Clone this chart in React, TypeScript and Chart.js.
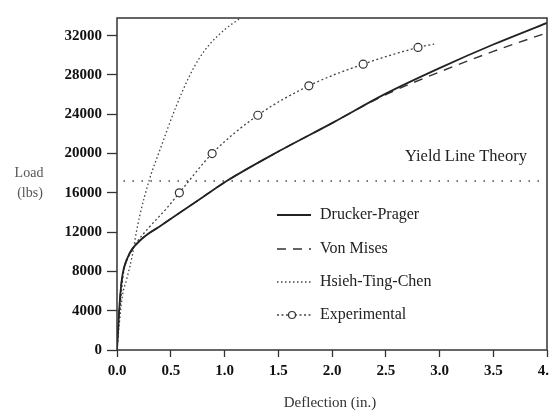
import React, { useEffect, useRef } from "react";
import { Chart, registerables } from "chart.js";

Chart.register(...registerables);

// ---- data (deflection in inches, load in lbs) ----
const xTickValues = [0, 0.5, 1.0, 1.5, 2.0, 2.5, 3.0, 3.5, 4.0];
const yTickValues = [0, 4000, 8000, 12000, 16000, 20000, 24000, 28000, 32000];

const druckerX = [0, 0.01, 0.023, 0.045, 0.066, 0.12, 0.24, 0.4, 0.58, 0.79, 1.02, 1.5, 2.0, 2.5, 3.0, 3.5, 4.0];
const druckerY = [0, 2000, 4500, 7200, 8400, 9900, 11400, 12600, 13950, 15500, 17200, 20200, 23100, 26100, 28700, 31100, 33300];

const vonMisesX = [0, 0.01, 0.023, 0.045, 0.066, 0.12, 0.24, 0.4, 0.58, 0.79, 1.02, 1.5, 2.0, 2.2, 2.5, 3.0, 3.5, 4.0];
const vonMisesY = [0, 2000, 4500, 7200, 8400, 9900, 11400, 12600, 13950, 15500, 17200, 20200, 23100, 24300, 26000, 28300, 30400, 32300];

const hsiehX = [0, 0.02, 0.05, 0.09, 0.14, 0.18, 0.21, 0.3, 0.4, 0.55, 0.67, 0.76, 0.86, 1.01, 1.15];
const hsiehY = [0, 2500, 5500, 7200, 9500, 12000, 13600, 17300, 20400, 24800, 27800, 29600, 31100, 32700, 33800];

const experimentalX = [0, 0.03, 0.06, 0.1, 0.18, 0.3, 0.46, 0.58, 0.885, 1.31, 1.785, 2.29, 2.8, 2.95];
const experimentalY = [0, 4500, 7800, 9300, 10900, 12500, 14400, 16000, 20000, 23900, 26900, 29100, 30800, 31150];
const experimentalMarked = [false, false, false, false, false, false, false, true, true, true, true, true, true, false];

const yieldLineX = [0.06, 3.95];
const yieldLineY = [17200, 17200];

const legendLabels = ["Drucker-Prager", "Von Mises", "Hsieh-Ting-Chen", "Experimental"];
const yieldLabel = "Yield Line Theory";
const yTitleLines = ["Load", "(lbs)"];
const xTitle = "Deflection (in.)";

const SERIF = "'Liberation Serif', 'Times New Roman', 'DejaVu Serif', serif";
const INK = "#222";

const pts = (xs: number[], ys: number[]) => xs.map((x, i) => ({ x, y: ys[i] }));

const decorPlugin = {
  id: "decor",
  afterDatasetsDraw(chart: any) {
    const { ctx, chartArea } = chart;
    const { left, top, right, bottom } = chartArea;
    ctx.save();
    // frame
    ctx.strokeStyle = "#333";
    ctx.lineWidth = 1.5;
    ctx.setLineDash([]);
    ctx.strokeRect(left, top, right - left, bottom - top);

    // legend inside plot
    const lx0 = left + 160;
    const lx1 = left + 194;
    const tx = left + 203;
    const rows = [top + 197, top + 231, top + 264, top + 297];
    ctx.font = `16px ${SERIF}`;
    ctx.fillStyle = INK;
    ctx.textBaseline = "middle";
    ctx.textAlign = "left";
    const styles: any[] = [
      { dash: [], w: 1.8, c: "#222" },
      { dash: [9, 7], w: 1.4, c: "#333" },
      { dash: [1.5, 2.5], w: 1.3, c: "#444" },
      { dash: [2, 2.5], w: 1.3, c: "#444" },
    ];
    rows.forEach((y, i) => {
      const s = styles[i];
      ctx.beginPath();
      ctx.setLineDash(s.dash);
      ctx.lineWidth = s.w;
      ctx.strokeStyle = s.c;
      ctx.moveTo(lx0, y);
      ctx.lineTo(lx1, y);
      ctx.stroke();
      if (i === 3) {
        ctx.setLineDash([]);
        ctx.beginPath();
        ctx.fillStyle = "#fff";
        ctx.arc(lx0 + 15, y, 3.5, 0, Math.PI * 2);
        ctx.fill();
        ctx.lineWidth = 1.2;
        ctx.strokeStyle = "#333";
        ctx.stroke();
        ctx.fillStyle = INK;
      }
      ctx.setLineDash([]);
      ctx.fillText(legendLabels[i], tx, y);
    });

    // yield line label
    ctx.font = `16.5px ${SERIF}`;
    ctx.fillText(yieldLabel, left + 288, top + 139);

    // axis titles
    ctx.font = `14px ${SERIF}`;
    ctx.fillStyle = "#555";
    ctx.textAlign = "center";
    ctx.fillText(yTitleLines[0], 29, 173);
    ctx.fillText(yTitleLines[1], 30, 193);
    ctx.font = `15px ${SERIF}`;
    ctx.fillStyle = "#333";
    ctx.fillText(xTitle, 330, 403);
    ctx.restore();
  },
};

export default function App() {
  const ref = useRef<HTMLCanvasElement | null>(null);

  useEffect(() => {
    if (!ref.current) return;
    const chart = new Chart(ref.current, {
      type: "line",
      data: {
        datasets: [
          {
            label: legendLabels[0],
            data: pts(druckerX, druckerY),
            borderColor: "#222",
            borderWidth: 1.8,
            pointRadius: 0,
            cubicInterpolationMode: "monotone",
          },
          {
            label: legendLabels[1],
            data: pts(vonMisesX, vonMisesY),
            borderColor: "#333",
            borderWidth: 1.4,
            borderDash: [9, 7],
            pointRadius: 0,
            cubicInterpolationMode: "monotone",
          },
          {
            label: legendLabels[2],
            data: pts(hsiehX, hsiehY),
            borderColor: "#444",
            borderWidth: 1.3,
            borderDash: [1.5, 2.5],
            pointRadius: 0,
            cubicInterpolationMode: "monotone",
          },
          {
            label: yieldLabel,
            data: pts(yieldLineX, yieldLineY),
            borderColor: "#444",
            borderWidth: 1.4,
            borderDash: [1.5, 7.5],
            pointRadius: 0,
          },
          {
            label: legendLabels[3],
            data: pts(experimentalX, experimentalY),
            borderColor: "#444",
            borderWidth: 1.3,
            borderDash: [2, 2.5],
            cubicInterpolationMode: "monotone",
            pointRadius: experimentalMarked.map((m) => (m ? 4 : 0)),
            pointBackgroundColor: "#fff",
            pointBorderColor: "#333",
            pointBorderWidth: 1.2,
            pointStyle: "circle",
          },
        ],
      },
      options: {
        animation: false,
        responsive: false,
        devicePixelRatio: 1,
        events: [],
        layout: { padding: { left: 0, top: 18, right: 33, bottom: 0 } },
        plugins: {
          legend: { display: false },
          tooltip: { enabled: false },
          title: { display: false },
        },
        scales: {
          x: {
            type: "linear",
            min: 0,
            max: 4,
            afterBuildTicks: (scale: any) => {
              scale.ticks = xTickValues.map((v) => ({ value: v }));
            },
            afterFit: (scale: any) => {
              scale.height = 62;
            },
            ticks: {
              callback: (v: any) => Number(v).toFixed(1),
              font: { family: SERIF, size: 15, weight: "bold" },
              color: "#111",
              padding: 5,
              maxRotation: 0,
              autoSkip: false,
            },
            grid: {
              drawOnChartArea: false,
              drawTicks: true,
              tickLength: 7,
              tickColor: "#333",
              tickWidth: 1.3,
            },
            border: { display: false },
          },
          y: {
            type: "linear",
            min: 0,
            max: 33800,
            afterBuildTicks: (scale: any) => {
              scale.ticks = yTickValues.map((v) => ({ value: v }));
            },
            afterFit: (scale: any) => {
              scale.width = 117;
            },
            ticks: {
              callback: (v: any) => String(v),
              font: { family: SERIF, size: 15, weight: "bold" },
              color: "#111",
              padding: 5,
              autoSkip: false,
            },
            grid: {
              drawOnChartArea: false,
              drawTicks: true,
              tickLength: 10,
              tickColor: "#333",
              tickWidth: 1.3,
            },
            border: { display: false },
          },
        },
      },
      plugins: [decorPlugin],
    } as any);
    return () => chart.destroy();
  }, []);

  return (
    <div
      style={{
        position: "fixed",
        left: 0,
        top: 0,
        width: 549,
        height: 412,
        overflow: "hidden",
        background: "#fff",
      }}
    >
      <canvas ref={ref} width={580} height={412} style={{ display: "block" }} />
    </div>
  );
}
